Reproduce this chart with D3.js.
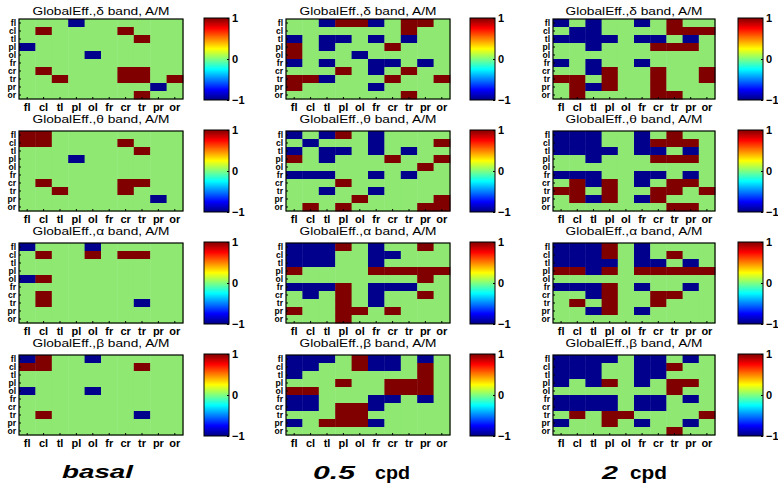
<!DOCTYPE html>
<html><head><meta charset="utf-8">
<script src="https://cdn.jsdelivr.net/npm/d3@7"></script>
<style>body{margin:0;background:#fff} svg{display:block} text{font-family:"Liberation Sans",Arial,sans-serif}</style>
</head><body><svg id="c" width="778" height="489"></svg>
<script>
const regions = ["fl","cl","tl","pl","ol","fr","cr","tr","pr","or"];
const bands = ["δ","θ","α","β"];
const conditions = ["basal","0.5 cpd","2 cpd"];
const colorTicks = [1,0,-1];

const basalDelta = [
[0,0,0,-1,0,0,0,0,0,0],[0,1,0,0,0,0,1,0,0,0],[0,0,0,0,0,0,0,1,0,0],[-1,0,0,0,0,0,0,0,0,0],[0,0,0,0,-1,0,0,0,0,0],
[0,0,0,0,0,0,0,0,0,0],[0,1,0,0,0,0,1,1,0,0],[0,0,1,0,0,0,1,1,0,1],[0,0,0,0,0,0,0,0,-1,0],[0,0,0,0,0,0,0,1,0,0]];
const halfDelta = [
[0,0,-1,1,1,-1,0,1,1,0],[0,0,0,0,0,0,0,1,0,0],[-1,0,-1,-1,0,-1,0,-1,0,0],[1,0,-1,0,0,0,1,0,0,0],[1,0,0,0,-1,0,0,0,0,0],
[-1,0,-1,0,0,-1,-1,0,-1,0],[0,0,0,1,0,-1,0,1,0,0],[1,1,-1,0,0,0,1,0,0,1],[1,0,0,0,0,-1,0,0,0,0],[0,0,0,0,0,0,0,1,0,0]];
const twoDelta = [
[-1,0,-1,0,0,-1,0,1,0,0],[0,-1,-1,0,0,0,0,1,1,1],[-1,-1,-1,-1,0,-1,-1,0,-1,0],[0,0,-1,0,0,0,1,1,1,0],[0,0,0,0,0,0,0,0,0,0],
[-1,0,-1,0,0,-1,0,0,0,0],[0,0,-1,1,0,0,1,0,0,1],[1,1,0,1,0,0,1,0,0,1],[0,1,-1,1,0,0,1,0,0,0],[0,1,0,0,0,0,1,1,0,0]];

const basalTheta = [
[1,1,0,0,0,0,0,0,0,0],[1,1,0,0,0,0,1,0,0,0],[0,0,0,0,0,0,0,1,0,0],[0,0,0,-1,0,0,0,0,0,0],[0,0,0,0,0,0,0,0,0,0],
[0,0,0,0,0,0,0,0,0,0],[0,1,0,0,0,0,1,1,0,0],[0,0,1,0,0,0,1,0,0,0],[0,0,0,0,0,0,0,0,-1,0],[0,0,0,0,0,0,0,0,0,0]];
const halfTheta = [
[-1,0,-1,1,0,-1,0,0,0,0],[0,-1,0,0,0,-1,0,0,0,1],[-1,0,-1,-1,0,-1,0,-1,0,0],[1,0,-1,0,0,0,1,0,0,1],[0,0,0,0,0,0,0,0,1,0],
[-1,-1,-1,0,0,-1,0,-1,0,0],[0,0,0,1,0,0,0,0,0,0],[0,0,-1,0,0,-1,0,0,0,0],[0,0,0,0,1,0,0,0,0,1],[0,1,0,1,0,0,0,0,1,1]];
const twoTheta = [
[-1,-1,-1,0,0,-1,0,1,0,0],[-1,-1,-1,0,0,-1,1,1,1,0],[-1,-1,-1,-1,0,-1,-1,0,-1,0],[0,0,-1,0,0,0,1,1,1,0],[0,0,0,0,0,0,0,0,0,0],
[-1,-1,-1,0,0,-1,-1,0,-1,0],[0,1,-1,1,0,-1,0,1,1,0],[1,1,0,1,0,0,1,1,0,1],[0,1,-1,1,0,-1,1,0,0,0],[0,0,0,0,0,0,0,1,1,0]];

const basalAlpha = [
[-1,0,0,0,-1,0,0,0,0,0],[0,1,0,0,1,0,1,1,0,0],[0,0,0,0,0,0,0,0,0,0],[0,0,0,0,0,0,0,0,0,0],[-1,1,0,0,0,0,0,0,0,0],
[0,0,0,0,0,0,0,0,0,0],[0,1,0,0,0,0,0,0,0,0],[0,1,0,0,0,0,0,-1,0,0],[0,0,0,0,0,0,0,0,0,0],[0,0,0,0,0,0,0,0,0,0]];
const halfAlpha = [
[-1,-1,-1,1,0,-1,0,0,1,0],[-1,-1,-1,0,0,-1,-1,0,0,0],[-1,-1,-1,0,0,-1,0,0,0,0],[1,0,0,0,0,1,1,1,1,1],[0,0,0,0,0,0,0,0,1,0],
[-1,-1,-1,1,0,-1,-1,-1,0,0],[0,-1,0,1,0,-1,0,0,1,0],[0,0,0,1,0,-1,0,0,0,0],[1,0,0,1,1,0,1,0,0,0],[0,0,0,1,0,0,0,0,0,0]];
const twoAlpha = [
[-1,-1,-1,1,0,-1,0,0,0,0],[-1,-1,-1,1,0,-1,0,1,0,0],[-1,-1,-1,-1,0,-1,-1,0,-1,0],[1,1,-1,1,0,1,1,1,1,1],[0,0,0,0,0,0,0,0,0,0],
[-1,-1,-1,1,0,-1,0,0,-1,0],[0,0,-1,1,0,0,1,1,0,0],[0,1,0,1,0,0,1,0,0,0],[0,0,-1,1,0,-1,0,0,0,0],[0,0,0,0,0,0,0,0,0,0]];

const basalBeta = [
[-1,1,0,0,-1,0,0,0,0,0],[1,1,0,0,0,0,0,1,0,0],[0,0,0,0,0,0,0,0,0,0],[0,0,0,0,0,0,0,0,0,0],[-1,0,0,0,-1,0,0,0,0,0],
[0,0,0,0,0,0,0,0,0,0],[0,0,0,0,0,0,0,0,0,0],[0,1,0,0,0,0,0,-1,0,0],[0,0,0,0,0,0,0,0,0,0],[0,0,0,0,0,0,0,0,0,0]];
const halfBeta = [
[-1,-1,-1,0,1,-1,-1,0,-1,0],[-1,-1,0,0,1,-1,-1,0,1,0],[-1,0,0,0,0,0,0,0,1,0],[0,0,0,1,0,0,1,1,1,0],[1,1,0,0,0,0,1,1,1,0],
[-1,-1,0,0,0,-1,-1,0,-1,0],[-1,-1,0,1,1,-1,0,0,0,0],[0,0,0,1,1,0,0,0,0,0],[-1,0,1,1,1,-1,0,0,0,0],[0,0,0,0,0,0,0,0,0,0]];
const twoBeta = [
[-1,-1,-1,-1,0,-1,-1,0,-1,0],[-1,-1,-1,0,0,-1,-1,1,0,0],[-1,-1,-1,0,0,-1,-1,0,0,0],[-1,0,-1,1,0,-1,0,1,1,0],[0,0,0,0,0,0,0,1,0,0],
[-1,-1,-1,-1,0,-1,-1,0,-1,0],[-1,-1,-1,-1,0,-1,-1,0,0,0],[0,1,0,1,1,0,0,0,0,1],[-1,0,0,1,0,-1,0,0,-1,0],[0,0,0,0,0,0,0,1,0,0]];

const matrices = [
  [basalDelta, halfDelta, twoDelta],
  [basalTheta, halfTheta, twoTheta],
  [basalAlpha, halfAlpha, twoAlpha],
  [basalBeta, halfBeta, twoBeta]
];

// layout
const colX = [19, 286, 553], colW = [164, 164, 162];
const rowY = [19, 131, 243, 355], rowH = 80;
const cbX = [204, 470, 738], cbW = 25;
const titleY = [15, 123, 235, 347];

const svg = d3.select("#c");
const cellColor = d3.scaleOrdinal().domain([-1,0,1]).range(["#00008c","#8ee872","#800000"]);

// jet gradient
const jet = [[0,"#000080"],[0.125,"#0000ff"],[0.375,"#00ffff"],[0.5,"#80ff80"],[0.625,"#ffff00"],[0.875,"#ff0000"],[1,"#800000"]];
const defs = svg.append("defs");
const grad = defs.append("linearGradient").attr("id","jet").attr("x1",0).attr("y1",1).attr("x2",0).attr("y2",0);
jet.forEach(([o,c]) => grad.append("stop").attr("offset",o).attr("stop-color",c));

bands.forEach((band, bi) => {
  conditions.forEach((cond, ci) => {
    const x0 = colX[ci], w = colW[ci], y0 = rowY[bi];
    const x = d3.scaleBand().domain(regions).range([x0, x0 + w]);
    const y = d3.scaleBand().domain(regions).range([y0, y0 + rowH]);
    const g = svg.append("g");
    const cells = [];
    matrices[bi][ci].forEach((row, r) => row.forEach((v, c) => cells.push({r: regions[r], c: regions[c], v})));
    g.selectAll("rect.cell").data(cells).join("rect")
      .attr("x", d => x(d.c)).attr("y", d => y(d.r))
      .attr("width", x.bandwidth() + 0.4).attr("height", y.bandwidth() + 0.4)
      .attr("fill", d => cellColor(d.v));
    g.append("rect").attr("x", x0).attr("y", y0).attr("width", w).attr("height", rowH)
      .attr("fill","none").attr("stroke","#000").attr("stroke-width",1.2);
    // axes
    const xa = g.append("g").attr("transform", `translate(0,${y0 + rowH})`)
      .call(d3.axisBottom(x).tickSizeInner(-2).tickSizeOuter(0).tickPadding(4));
    xa.select(".domain").remove();
    xa.selectAll("text").attr("font-size", 11).attr("font-weight","bold").attr("fill","#000")
      .attr("font-family","Liberation Sans, Arial, sans-serif");
    const ya = g.append("g").attr("transform", `translate(${x0},0)`)
      .call(d3.axisLeft(y).tickSizeInner(-2).tickSizeOuter(0).tickPadding(3));
    ya.select(".domain").remove();
    ya.selectAll("text").attr("font-size", 8.5).attr("font-weight","bold").attr("fill","#000")
      .attr("font-family","Liberation Sans, Arial, sans-serif").attr("dy","0.36em");
    // title
    g.append("text").attr("x", x0 + w / 2).attr("y", titleY[bi]).attr("text-anchor","middle")
      .attr("font-size", 11).attr("textLength", 137).attr("lengthAdjust","spacingAndGlyphs")
      .text(`GlobalEff.,${band} band, A/M`);
    // colorbar
    const cy = d3.scaleLinear().domain([-1, 1]).range([y0 + rowH + 1, y0 - 1]);
    g.append("rect").attr("x", cbX[ci]).attr("y", y0 - 1).attr("width", cbW).attr("height", rowH + 2)
      .attr("fill","url(#jet)").attr("stroke","#000").attr("stroke-width",1);
    const ca = g.append("g").attr("transform", `translate(${cbX[ci] + cbW},0)`)
      .call(d3.axisRight(cy).tickValues(colorTicks).tickFormat(d3.format("d")).tickSizeInner(-2).tickSizeOuter(0).tickPadding(3));
    ca.select(".domain").remove();
    ca.selectAll("text").attr("font-size", 11).attr("font-weight","bold").attr("fill","#000")
      .attr("font-family","Liberation Sans, Arial, sans-serif");
  });
});

// condition labels
const lab = svg.append("g").attr("font-weight","bold").attr("fill","#000");
lab.append("text").attr("x", 62).attr("y", 478).attr("font-size", 19).attr("font-style","italic")
  .attr("textLength", 71).attr("lengthAdjust","spacingAndGlyphs").text(conditions[0]);
const [num1, unit1] = conditions[1].split(" ");
lab.append("text").attr("x", 313).attr("y", 479).attr("font-size", 19).attr("font-style","italic")
  .attr("textLength", 42).attr("lengthAdjust","spacingAndGlyphs").text(num1);
lab.append("text").attr("x", 375).attr("y", 479).attr("font-size", 18)
  .attr("textLength", 35).attr("lengthAdjust","spacingAndGlyphs").text(unit1);
const [num2, unit2] = conditions[2].split(" ");
lab.append("text").attr("x", 602).attr("y", 479).attr("font-size", 19).attr("font-style","italic")
  .attr("textLength", 16).attr("lengthAdjust","spacingAndGlyphs").text(num2);
lab.append("text").attr("x", 630).attr("y", 479).attr("font-size", 18)
  .attr("textLength", 37).attr("lengthAdjust","spacingAndGlyphs").text(unit2);
</script></body></html>
